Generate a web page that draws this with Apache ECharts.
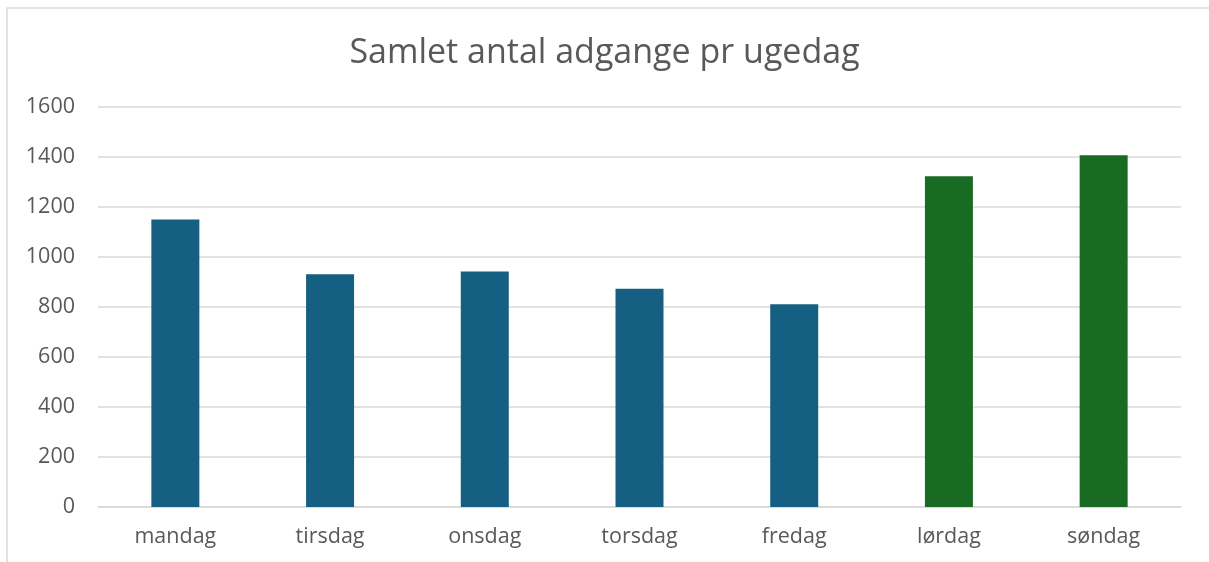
<!DOCTYPE html>
<html>
<head>
<meta charset="utf-8">
<script src="https://cdn.jsdelivr.net/npm/echarts@6/dist/echarts.min.js"></script>
<style>
    html, body { margin: 0; padding: 0; background: #fff; }
    #container { width: 1209px; height: 562px; }
</style>
</head>
<body>
<div id="container"></div>
<script type="text/javascript">
    // data
    var days = ['mandag', 'tirsdag', 'onsdag', 'torsdag', 'fredag', 'lørdag', 'søndag'];
    var visits = [1150, 931, 942, 873, 811, 1323, 1407];
    var weekend = [false, false, false, false, false, true, true];

    var dom = document.getElementById("container");
    var myChart = echarts.init(dom);
    var option;

    var textColor = '#595959';
    var fontName = 'Open Sans';

    option = {
        animation: false,
        graphic: [{
            type: 'rect',
            shape: { x: 7, y: 8, width: 1300, height: 700 },
            style: { fill: 'none', stroke: '#d9d9d9', lineWidth: 1.5 },
            silent: true
        }],
        title: {
            text: 'Samlet antal adgange pr ugedag',
            left: 'center',
            top: 31,
            textStyle: {
                color: textColor,
                fontFamily: fontName,
                fontWeight: 'normal',
                fontSize: 34
            }
        },
        grid: {
            left: 98,
            right: 28,
            top: 107,
            bottom: 55
        },
        xAxis: {
            type: 'category',
            data: days,
            axisLine: { lineStyle: { color: '#d9d9d9', width: 1.5 } },
            axisTick: { show: false },
            axisLabel: {
                color: textColor,
                fontFamily: fontName,
                fontSize: 21.5,
                margin: 19
            }
        },
        yAxis: {
            type: 'value',
            min: 0,
            max: 1600,
            interval: 200,
            axisLine: { show: false },
            axisTick: { show: false },
            splitLine: { lineStyle: { color: '#d9d9d9', width: 1.5 } },
            axisLabel: {
                color: textColor,
                fontFamily: fontName,
                fontSize: 21.5,
                margin: 23,
                formatter: function (v) { return String(v); }
            }
        },
        series: [
            {
                name: 'adgange',
                type: 'bar',
                barWidth: 48,
                data: visits.map(function (v, i) {
                    return {
                        value: v,
                        itemStyle: { color: weekend[i] ? '#196b24' : '#156082' }
                    };
                })
            }
        ]
    };

    if (option && typeof option === 'object') {
        myChart.setOption(option);
    }
</script>
</body>
</html>
